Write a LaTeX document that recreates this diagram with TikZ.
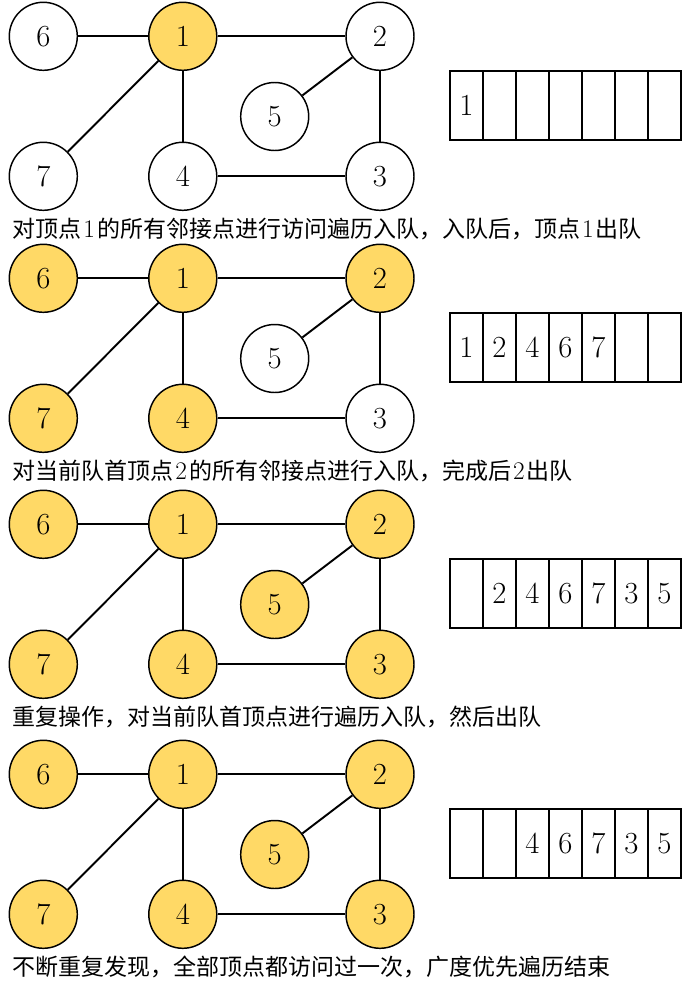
\documentclass[tikz,border=0pt]{standalone}
\usepackage{fontspec}
\newfontfamily\cjk{Noto Sans CJK SC}
\definecolor{visited}{RGB}{255,217,102}

\tikzset{every picture/.style={line width=0.75pt}}
\tikzset{
  vertex/.style={circle,draw,fill=white,line width=1.1pt,minimum size=51pt,inner sep=0pt,font=\fontsize{23}{23}\selectfont},
  seen/.style={fill=visited},
  edge/.style={line width=1.45pt},
  cell/.style={draw,line width=1.1pt,minimum width=24.75pt,minimum height=51.75pt,inner sep=0pt,font=\fontsize{23}{23}\selectfont},
  caption/.style={anchor=west,inner sep=0pt,font=\fontsize{17.25}{20}\selectfont}
}

% graph of one step: #1 prefix, #2..#8 styles of vertices 1..7
\newcommand{\bfsgraph}[8]{%
  \node[vertex,#2] (#1-1) at (182.8,36.3) {1};
  \node[vertex,#3] (#1-2) at (380,36.3) {2};
  \node[vertex,#4] (#1-3) at (380,176.3) {3};
  \node[vertex,#5] (#1-4) at (182.8,176.3) {4};
  \node[vertex,#6] (#1-5) at (274.7,116.5) {5};
  \node[vertex,#7] (#1-6) at (43.3,36.3) {6};
  \node[vertex,#8] (#1-7) at (43.3,176.3) {7};
  \draw[edge] (#1-6) -- (#1-1);
  \draw[edge] (#1-1) -- (#1-2);
  \draw[edge] (#1-2) -- (#1-3);
  \draw[edge] (#1-3) -- (#1-4);
  \draw[edge] (#1-4) -- (#1-1);
  \draw[edge] (#1-1) -- (#1-7);
  \draw[edge] (#1-2) -- (#1-5);
}
% queue of 7 cells: #1 prefix, #2 contents
\newcommand{\bfsqueue}[2]{%
  \foreach \v [count=\i from 0] in {#2}
    \node[cell] (#1-q\i) at ({466.5+33*\i},105.5) {\v};
}
\newcommand{\num}[1]{\kern1.5pt{\fontsize{19}{20}\selectfont#1}\kern1.5pt}

\begin{document}
\begin{tikzpicture}[x=0.75pt,y=0.75pt,yscale=-1,xscale=1]
\path[use as bounding box] (0,0) rectangle (688,993);

%step 1
\begin{scope}[shift={(0,0)}]
\bfsgraph{a}{seen}{}{}{}{}{}{}
\bfsqueue{a}{1,{},{},{},{},{},{}}
\node[caption] (a-text) at (12,229) {{\cjk 对顶点}\num{1}{\cjk 的所有邻接点进行访问遍历入队，入队后，顶点}\num{1}{\cjk 出队}};
\end{scope}

%step 2
\begin{scope}[shift={(0,242)}]
\bfsgraph{b}{seen}{seen}{}{seen}{}{seen}{seen}
\bfsqueue{b}{1,2,4,6,7,{},{}}
\node[caption] (b-text) at (12,229) {{\cjk 对当前队首顶点}\num{2}{\cjk 的所有邻接点进行入队，完成后}\num{2}{\cjk 出队}};
\end{scope}

%step 3
\begin{scope}[shift={(0,488)}]
\bfsgraph{c}{seen}{seen}{seen}{seen}{seen}{seen}{seen}
\bfsqueue{c}{{},2,4,6,7,3,5}
\node[caption] (c-text) at (12,229) {\cjk 重复操作，对当前队首顶点进行遍历入队，然后出队};
\end{scope}

%step 4
\begin{scope}[shift={(0,738)}]
\bfsgraph{d}{seen}{seen}{seen}{seen}{seen}{seen}{seen}
\bfsqueue{d}{{},{},4,6,7,3,5}
\node[caption] (d-text) at (12,229) {\cjk 不断重复发现，全部顶点都访问过一次，广度优先遍历结束};
\end{scope}

\end{tikzpicture}
\end{document}
